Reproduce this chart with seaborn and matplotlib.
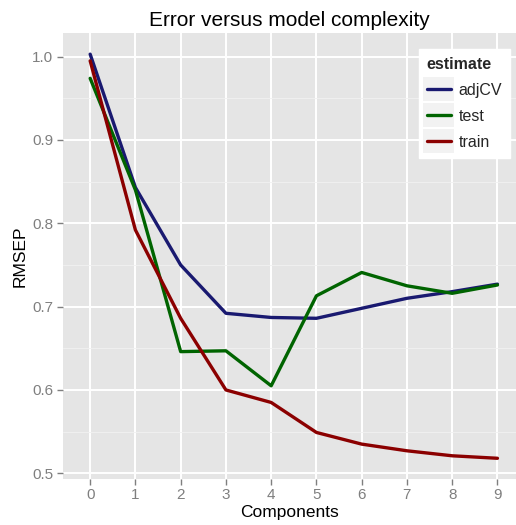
import matplotlib
matplotlib.use("Agg")
import matplotlib.pyplot as plt
import seaborn as sns
import pandas as pd
from matplotlib.ticker import MultipleLocator
from matplotlib.legend_handler import HandlerLine2D
from matplotlib.patches import Rectangle

components = [0, 1, 2, 3, 4, 5, 6, 7, 8, 9]
adjcv = [1.003, 0.843, 0.750, 0.692, 0.687, 0.686, 0.698, 0.710, 0.718, 0.727]
test = [0.974, 0.840, 0.646, 0.647, 0.605, 0.713, 0.741, 0.725, 0.716, 0.726]
train = [0.995, 0.792, 0.686, 0.600, 0.585, 0.549, 0.535, 0.527, 0.521, 0.518]
estimates = ["adjCV", "test", "train"]
y_ticks = [0.5, 0.6, 0.7, 0.8, 0.9, 1.0]

df = pd.DataFrame({
    "Components": components * 3,
    "RMSEP": adjcv + test + train,
    "estimate": [e for e in estimates for _ in components],
})

palette = {"adjCV": "#191970", "test": "#006400", "train": "#8B0000"}

sns.set_style("darkgrid", {"axes.facecolor": "#E5E5E5", "grid.color": "white"})
plt.rcParams['font.family'] = ['Liberation Sans', 'DejaVu Sans']


class KeyHandler(HandlerLine2D):
    def create_artists(self, legend, orig_handle, xdescent, ydescent,
                       width, height, fontsize, trans):
        pad = 2.5
        rect = Rectangle((-xdescent - pad, -ydescent - pad - 2),
                         width + 2 * pad, height + 2 * pad + 4,
                         facecolor="#F2F2F2", edgecolor="none", transform=trans)
        arts = super().create_artists(legend, orig_handle, xdescent, ydescent,
                                      width, height, fontsize, trans)
        return [rect] + list(arts)


W, H = 516, 525
fig = plt.figure(figsize=(W / 100, H / 100), dpi=100)
ax = fig.add_axes([63 / W, (H - 478.7) / H, (W - 63) / W, (478.7 - 33) / H])

ax.set_xlim(-0.6, 9.41)
ax.set_ylim(0.4935, 1.0284)
ax.yaxis.set_minor_locator(MultipleLocator(0.05))
ax.grid(which="major", color="white", linewidth=1.4)
ax.grid(which="minor", axis="y", color="#F2F2F2", linewidth=0.6)
ax.set_axisbelow(True)

sns.lineplot(data=df, x="Components", y="RMSEP", hue="estimate",
             palette=palette, linewidth=2.4, ax=ax, legend=True)

ax.set_xticks(components)
ax.set_xticklabels([str(c) for c in components])
ax.set_yticks(y_ticks)
ax.set_yticklabels([f"{v:.1f}" for v in y_ticks])
ax.tick_params(axis="both", which="major", colors="#7F7F7F", labelsize=11,
               length=4, width=1, direction="out", pad=3, labelcolor="#7F7F7F")
ax.tick_params(which="minor", length=0)
ax.tick_params(axis="x", bottom=True)
ax.tick_params(axis="y", left=True)
for s in ax.spines.values():
    s.set_visible(False)

ax.set_xlabel("Components", fontsize=12.5, color="black", labelpad=2)
ax.set_ylabel("RMSEP", fontsize=12.5, color="black", labelpad=3)
ax.set_title("Error versus model complexity", fontsize=15, color="black", pad=5)

handles, labels = ax.get_legend_handles_labels()
leg = ax.legend(handles, labels, title="estimate", loc="upper right",
                bbox_to_anchor=(510 / W, 1 - 49 / H), bbox_transform=fig.transFigure,
                borderaxespad=0, frameon=True, fontsize=11.5, title_fontsize=11.5,
                handlelength=1.5, borderpad=0.5, labelspacing=0.68,
                handletextpad=0.5, alignment="left",
                handler_map={h: KeyHandler() for h in handles})
leg.get_frame().set_facecolor("white")
leg.get_frame().set_edgecolor("white")
leg.get_frame().set_alpha(1)
leg.get_frame().set_boxstyle("square", pad=0)
leg.get_title().set_fontweight("bold")
for line in leg.get_lines():
    line.set_linewidth(2.6)

fig.savefig("out.png", dpi=100)
